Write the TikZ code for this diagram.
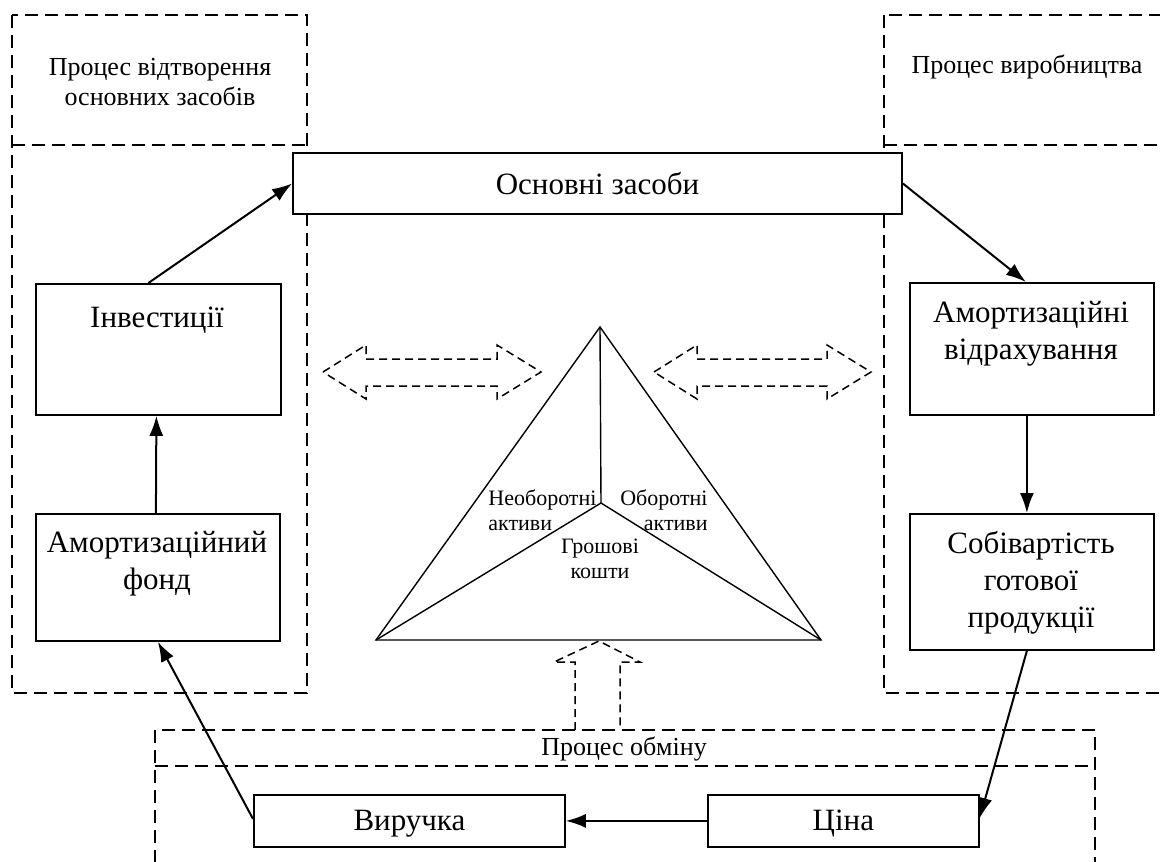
\documentclass[tikz,border=0pt]{standalone}
\usepackage{fontspec}
\setmainfont{Liberation Serif}
\usetikzlibrary{positioning, arrows.meta, calc}

\begin{document}
\begin{tikzpicture}[x=1pt, y=-1pt, thick,
						box/.style={draw=black, fill=white, rectangle, line width=1.8pt, inner sep=0pt},
						boxtext/.style={font=\fontsize{31}{37}\selectfont, align=center, inner sep=0pt},
						head/.style={font=\fontsize{26}{30}\selectfont, align=center, inner sep=0pt},
						part/.style={font=\fontsize{22}{25}\selectfont, inner sep=0pt},
						frame/.style={draw=black, line width=1.7pt, dash pattern=on 13pt off 7pt},
						hollow/.style={draw=black, line width=1.5pt, dash pattern=on 8pt off 5pt},
						arrow/.style={-{Latex[length=20pt, width=14pt]}, line width=2pt}]
						
						\useasboundingbox (0,0) rectangle (1160,862);
						\clip (0,0) rectangle (1160,862);
						
						% dashed process frames
						\draw[frame] (12,15) rectangle (307,693);
						\draw[frame] (12,145) -- (307,145);
						\draw[frame] (884,15) rectangle (1185,693);
						\draw[frame] (884,145) -- (1185,145);
						\draw[frame] (155,730) rectangle (1095,890);
						\draw[frame] (155,766) -- (1095,766);
						
						\node[head] (reprod) at (160,82) {Процес відтворення\\основних засобів};
						\node[head] (produce) at (1027,67) {Процес виробництва};
						\node[head] (exchange) at (624,749) {Процес обміну};
						
						% boxes
						\node[box, minimum width=609, minimum height=61] (assets) at (597.5,183.5) {};
						\node[box, minimum width=245, minimum height=131, anchor=north west] (invest) at (35,283) {};
						\node[box, minimum width=244, minimum height=127, anchor=north west] (fund) at (35,513) {};
						\node[box, minimum width=244, minimum height=132, anchor=north west] (deprec) at (909,282) {};
						\node[box, minimum width=244, minimum height=136, anchor=north west] (cost) at (909,513) {};
						\node[box, minimum width=311, minimum height=52, anchor=north west] (revenue) at (253,794) {};
						\node[box, minimum width=271, minimum height=52, anchor=north west] (price) at (707,794) {};
						
						\node[boxtext] (assetstext) at (assets) {Основні засоби};
						\node[boxtext] (investtext) at (157,320) {Інвестиції};
						\node[boxtext] (fundtext) at (157,564) {Амортизаційний\\фонд};
						\node[boxtext] (deprectext) at (1031,334) {Амортизаційні\\відрахування};
						\node[boxtext] (costtext) at (1031,583) {Собівартість\\готової\\продукції};
						\node[boxtext, yshift=-3pt] (revenuetext) at (revenue) {Виручка};
						\node[boxtext, yshift=-3pt] (pricetext) at (price) {Ціна};
						
						% triangle of assets
						\coordinate (apex) at (600,327);
						\coordinate (left) at (376,640);
						\coordinate (right) at (821,640);
						\coordinate (mid) at (601,503);
						\draw[line width=1.4pt] (apex) -- (left) -- (right) -- cycle;
						\draw[line width=1.4pt] (apex) -- (mid) -- (left);
						\draw[line width=1.4pt] (mid) -- (right);
						\node[part, align=left, anchor=west] (fixed) at (488,510) {Необоротні\\активи};
						\node[part, align=right, anchor=east] (current) at (708,510) {Оборотні\\активи};
						\node[part, align=center] (cash) at (600,559) {Грошові\\кошти};
						
						% hollow dashed arrows
						\foreach \a/\b in {323/541, 654/871}
						\draw[hollow] (\a,372) -- (\a+43,345) -- (\a+43,359) -- (\b-44,359) -- (\b-44,345) -- (\b,372)
						-- (\b-44,399) -- (\b-44,386) -- (\a+43,386) -- (\a+43,399) -- cycle;
						\draw[hollow] (575,730) -- (575,662) -- (554,662) -- (599,641) -- (640,662) -- (620,662) -- (620,730);
						
						% flows
						\draw[arrow] ([xshift=-10pt]invest.north) -- (assets.west);
						\draw[arrow] (assets.east) -- ([xshift=-6pt]deprec.north);
						\draw[arrow] ([xshift=-5pt]deprec.south) -- ([xshift=-5pt]cost.north);
						\draw[arrow] ([xshift=-5pt]cost.south) -- ([yshift=3pt]price.east);
						\draw[arrow] (price.west) -- (revenue.east);
						\draw[arrow] ([yshift=2pt]revenue.west) -- (fund.south);
						\draw[arrow] ([xshift=-2pt]fund.north) -- ([xshift=-2pt]invest.south);
					\end{tikzpicture}
\end{document}
